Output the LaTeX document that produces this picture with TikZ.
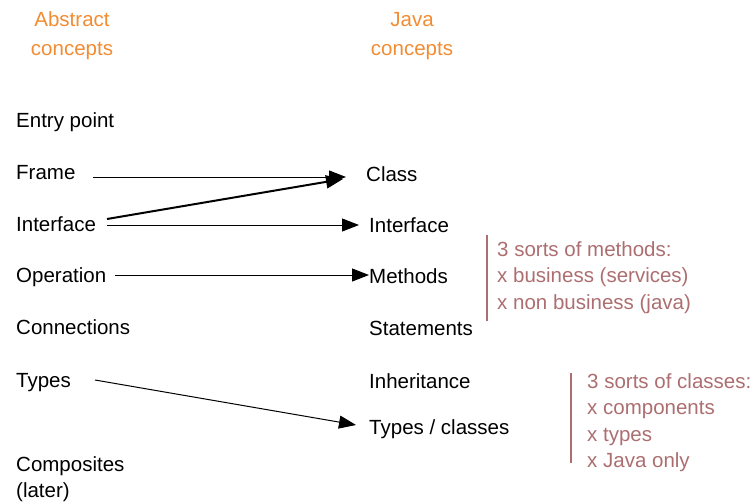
\documentclass[tikz,border=0pt]{standalone}
\usepackage{fontspec}
\setmainfont{Liberation Sans}
\usetikzlibrary{arrows.meta}
\definecolor{headorange}{RGB}{242,140,50}
\definecolor{notemauve}{RGB}{172,110,112}
\tikzset{
  x=1pt, y=-1pt,
  lbl/.style={anchor=base west, inner sep=0pt, font=\fontsize{20.5}{24}\selectfont},
  head/.style={align=center, inner sep=0pt, text=headorange, font=\fontsize{20.5}{29}\selectfont},
  note/.style={anchor=north west, inner sep=0pt, align=left, text=notemauve, font=\fontsize{20.5}{26.5}\selectfont},
  bar/.style={draw=notemauve, line width=1.3pt},
  arr/.style={-{Triangle[length=17pt,width=13pt]}, line width=1pt},
}
\begin{document}
\begin{tikzpicture}
\useasboundingbox (0,0) rectangle (754,503);
% column headings
\node[head] (habs) at (72,36) {Abstract\\concepts};
\node[head] (hjava) at (412,36) {Java\\concepts};
% abstract concepts
\node[lbl] (entry) at (16,127) {Entry point};
\node[lbl] (frame) at (16,179) {Frame};
\node[lbl] (iface) at (16,231) {Interface};
\node[lbl] (oper) at (16,282) {Operation};
\node[lbl] (conn) at (16,334) {Connections};
\node[lbl] (types) at (16,387) {Types};
\node[lbl] (comp) at (16,471) {Composites};
\node[lbl] (later) at (16,497) {(later)};
% Java concepts
\node[lbl] (class) at (366,181) {Class};
\node[lbl] (jiface) at (369,232) {Interface};
\node[lbl] (meth) at (369,283) {Methods};
\node[lbl] (stmt) at (369,335) {Statements};
\node[lbl] (inher) at (369,388) {Inheritance};
\node[lbl] (tcls) at (369,434) {Types / classes};
% side notes
\node[note] (mnote) at (497,241) {3 sorts of methods:\\x business (services)\\x non business (java)};
\draw[bar] (487,235) -- (487,321);
\node[note] (cnote) at (587,373) {3 sorts of classes:\\x components\\x types\\x Java only};
\draw[bar] (571,373) -- (571,463);
% mappings
\draw[arr] ([xshift=77pt,yshift=2pt]frame.base west) -- ([xshift=-20pt,yshift=4pt]class.base west);
\draw[arr, line width=2pt] ([xshift=91pt,yshift=12pt]iface.base west) -- ([xshift=-23pt,yshift=2pt]class.base west);
\draw[arr] ([xshift=91pt,yshift=6pt]iface.base west) -- ([xshift=-10pt,yshift=7pt]jiface.base west);
\draw[arr] ([xshift=99pt,yshift=7pt]oper.base west) -- ([xshift=0pt,yshift=8pt]meth.base west);
\draw[arr] ([xshift=79pt,yshift=7pt]types.base west) -- ([xshift=-13pt,yshift=9pt]tcls.base west);
\end{tikzpicture}
\end{document}
